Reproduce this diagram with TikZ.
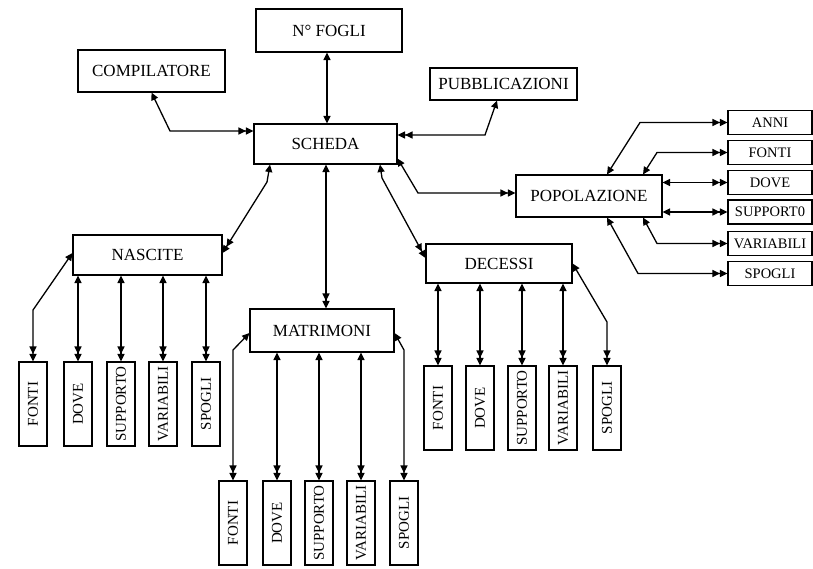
\documentclass[tikz,border=0pt]{standalone}
\usepackage{fontspec}
\setmainfont{Liberation Serif}
\usetikzlibrary{arrows.meta}
\begin{document}
\begin{tikzpicture}[x=1pt,y=-1pt,
  >={Triangle[length=7.5pt,width=7pt]},
  line width=1.3pt,
  box/.style={draw,line width=1.1pt,inner sep=0pt,font=\fontsize{17}{19}\selectfont},
  rbox/.style={draw,line width=1.1pt,inner sep=0pt,minimum width=84pt,minimum height=24pt,font=\fontsize{14.5}{16}\selectfont},
  vbox/.style={draw,line width=1.1pt,inner sep=0pt,minimum width=84pt,minimum height=28pt,rotate=90,font=\fontsize{15}{17}\selectfont},
  con/.style={<->>}]
\useasboundingbox (0,0) rectangle (813,568);
% main boxes
\node[box,minimum width=146pt,minimum height=43pt] (fogli) at (329,30.5) {N° FOGLI};
\node[box,minimum width=147pt,minimum height=42pt] (comp) at (151.5,71) {COMPILATORE};
\node[box,minimum width=147pt,minimum height=32pt] (pub) at (503.5,84) {PUBBLICAZIONI};
\node[box,minimum width=143pt,minimum height=40pt] (scheda) at (325.5,144) {SCHEDA};
\node[box,minimum width=146pt,minimum height=42pt] (pop) at (589,196) {POPOLAZIONE};
\node[box,minimum width=149pt,minimum height=40pt] (nascite) at (147.5,255) {NASCITE};
\node[box,minimum width=144pt,minimum height=43pt] (matr) at (322,330.5) {MATRIMONI};
\node[box,minimum width=146pt,minimum height=39pt] (dec) at (499,263.5) {DECESSI};
% right boxes
\node[rbox] (anni) at (770,122.5) {ANNI};
\node[rbox] (fontiP) at (770,152.5) {FONTI};
\node[rbox] (doveP) at (770,182.5) {DOVE};
\node[rbox] (suppP) at (770,212) {SUPPORT0};
\node[rbox] (varP) at (770,243.5) {VARIABILI};
\node[rbox] (spogP) at (770,273.5) {SPOGLI};
% nascite children
\node[vbox] (nf) at (33,404) {FONTI};
\node[vbox] (nd) at (78,404) {DOVE};
\node[vbox] (ns) at (121,404) {SUPPORTO};
\node[vbox] (nv) at (163,404) {VARIABILI};
\node[vbox] (ng) at (206,404) {SPOGLI};
% matrimoni children
\node[vbox] (mf) at (233,523) {FONTI};
\node[vbox] (md) at (277,523) {DOVE};
\node[vbox] (ms) at (319,523) {SUPPORTO};
\node[vbox] (mv) at (361,523) {VARIABILI};
\node[vbox] (mg) at (404,523) {SPOGLI};
% decessi children
\node[vbox] (df) at (438,408) {FONTI};
\node[vbox] (dd) at (480,408) {DOVE};
\node[vbox] (ds) at (522,408) {SUPPORTO};
\node[vbox] (dv) at (563,408) {VARIABILI};
\node[vbox] (dg) at (607,408) {SPOGLI};
% top connectors
\draw[con] (comp.south) -- (170,131) -- ([yshift=13pt]scheda.west);
\draw[con] ([xshift=-6.5pt]pub.south) -- (485,135) -- ([yshift=9pt]scheda.east);
\draw[<->] ([xshift=-2pt]fogli.south) -- ([xshift=1.5pt]scheda.north);
\draw[con] ([xshift=-55.5pt]scheda.south) -- (267,182) -- ([yshift=2pt]nascite.east);
\draw[con] ([xshift=0.5pt]scheda.south) -- ([xshift=4pt]matr.north);
\draw[con] ([xshift=54.5pt]scheda.south) -- (382,178) -- ([yshift=5.5pt]dec.west);
\draw[con] ([yshift=6pt]scheda.south east) -- (418,193) -- ([yshift=3pt]pop.west);
% popolazione connectors
\draw[con] ([xshift=18pt]pop.north) -- (640,122.5) -- (anni.west);
\draw[con] ([xshift=54pt]pop.north) -- (657,152.5) -- (fontiP.west);
\draw[con] (pop.east |- doveP.west) -- (doveP.west);
\draw[con] (pop.east |- suppP.west) -- (suppP.west);
\draw[con] ([xshift=54pt]pop.south) -- (657,243.5) -- (varP.west);
\draw[con] ([xshift=18pt]pop.south) -- (638,273.5) -- (spogP.west);
% nascite connectors
\draw[con] ([yshift=2pt]nascite.west) -- (33,310) -- (nf.east);
\foreach \k in {nd,ns,nv,ng} \draw[con] (nascite.south -| \k.east) -- (\k.east);
% matrimoni connectors
\draw[con] ([yshift=-2.5pt]matr.west) -- (233,350) -- (mf.east);
\foreach \k in {md,ms,mv} \draw[con] (matr.south -| \k.east) -- (\k.east);
\draw[con] ([yshift=-2.5pt]matr.east) -- (404,350) -- (mg.east);
% decessi connectors
\foreach \k in {df,dd,ds,dv} \draw[con] (dec.south -| \k.east) -- (\k.east);
\draw[con] (dec.east) -- (607,322) -- (dg.east);
\end{tikzpicture}
\end{document}
